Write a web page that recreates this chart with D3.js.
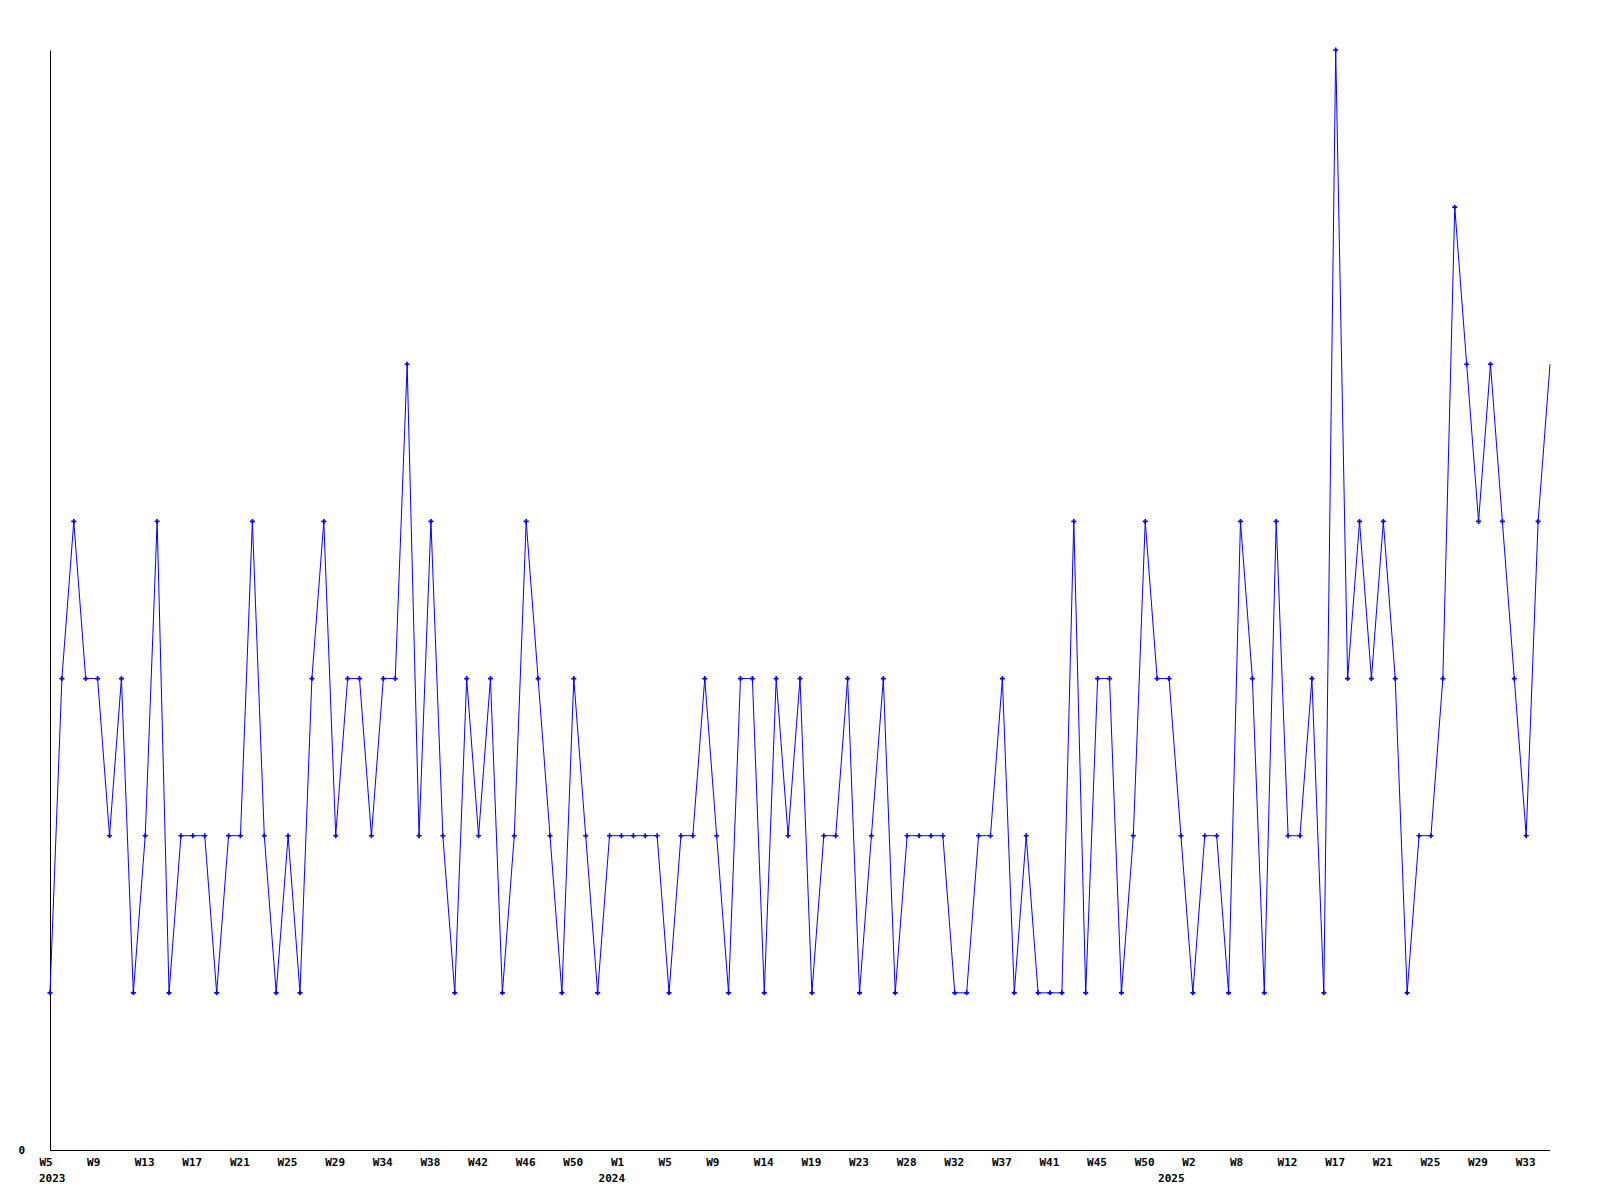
<!DOCTYPE html>
<html>
<head>
<meta charset="utf-8">
<script src="https://cdn.jsdelivr.net/npm/d3@7"></script>
<style>
  html, body { margin: 0; padding: 0; background: #fff; }
  svg { display: block; }
  text { font-family: "DejaVu Sans Mono", monospace; font-weight: bold; font-size: 11px; fill: #000; }
</style>
</head>
<body>
<svg id="chart" width="1600" height="1200"></svg>
<script>
// Weekly values (equally spaced data points)
const values = [
  1,3,4,3,3,2,3,1,2,4,
  1,2,2,2,1,2,2,4,2,1,
  2,1,3,4,2,3,3,2,3,3,
  5,2,4,2,1,3,2,3,1,2,
  4,3,2,1,3,2,1,2,2,2,
  2,2,1,2,2,3,2,1,3,3,
  1,3,2,3,1,2,2,3,1,2,
  3,1,2,2,2,2,1,1,2,2,
  3,1,2,1,1,1,4,1,3,3,
  1,2,4,3,3,2,1,2,2,1,
  4,3,1,4,2,2,3,1,7,3,
  4,3,4,3,1,2,2,3,6,5,
  4,5,4,3,2,4,5
];
// Week tick labels (one every 4 points)
const tickLabels = ["W5","W9","W13","W17","W21","W25","W29","W34","W38","W42","W46","W50",
  "W1","W5","W9","W14","W19","W23","W28","W32","W37","W41","W45","W50",
  "W2","W8","W12","W17","W21","W25","W29","W33"];
const tickIndex = tickLabels.map((d, i) => i * 4);
// Year labels and the data index they sit under
const yearLabels = ["2023", "2024", "2025"];
const yearIndex = [0, 47, 94];
const yTicks = [0];

const svg = d3.select("#chart");
const x = d3.scaleLinear().domain([0, values.length - 1]).range([50, 1550]);
const y = d3.scaleLinear().domain([0, 7]).range([1150, 50]);

// Axes
const xAxis = d3.axisBottom(x)
  .tickValues(tickIndex)
  .tickFormat((d, i) => tickLabels[i])
  .tickSize(0)
  .tickSizeOuter(0);
const gx = svg.append("g").attr("transform", "translate(0,1150)").call(xAxis);
gx.select(".domain").attr("stroke", "#000").attr("d", "M" + x(0) + ",0.5H" + x(values.length - 1));
gx.selectAll(".tick text")
  .attr("text-anchor", "start")
  .attr("dx", -11)
  .attr("y", 16)
  .attr("dy", 0)
  .style("font-family", '"DejaVu Sans Mono", monospace')
  .style("font-weight", "bold")
  .style("font-size", "11px")
  .attr("fill", "#000");

svg.append("g").selectAll("text.year")
  .data(yearLabels)
  .join("text")
  .attr("class", "year")
  .attr("x", (d, i) => x(yearIndex[i]) - 11)
  .attr("y", 1182)
  .text(d => d);

const yAxis = d3.axisLeft(y).tickValues(yTicks).tickFormat(d3.format("d")).tickSize(0).tickSizeOuter(0).tickPadding(25);
const gy = svg.append("g").attr("transform", "translate(50,0)").call(yAxis);
gy.select(".domain").attr("stroke", "#000");
gy.selectAll(".tick text")
  .attr("dy", "0.32em")
  .style("font-family", '"DejaVu Sans Mono", monospace')
  .style("font-weight", "bold")
  .style("font-size", "11px")
  .attr("fill", "#000");

// Line
const line = d3.line().x((d, i) => x(i)).y(d => y(d));
svg.append("path")
  .datum(values)
  .attr("fill", "none")
  .attr("stroke", "#0000ff")
  .attr("stroke-width", 1)
  .attr("d", line);

// Markers (cross symbols), last point has none
const sym = d3.symbol().type(d3.symbolCross).size(14);
svg.append("g").selectAll("path")
  .data(values.slice(0, values.length - 1))
  .join("path")
  .attr("transform", (d, i) => "translate(" + x(i) + "," + y(d) + ")")
  .attr("d", sym)
  .attr("fill", "#0000ff");
</script>
</body>
</html>
